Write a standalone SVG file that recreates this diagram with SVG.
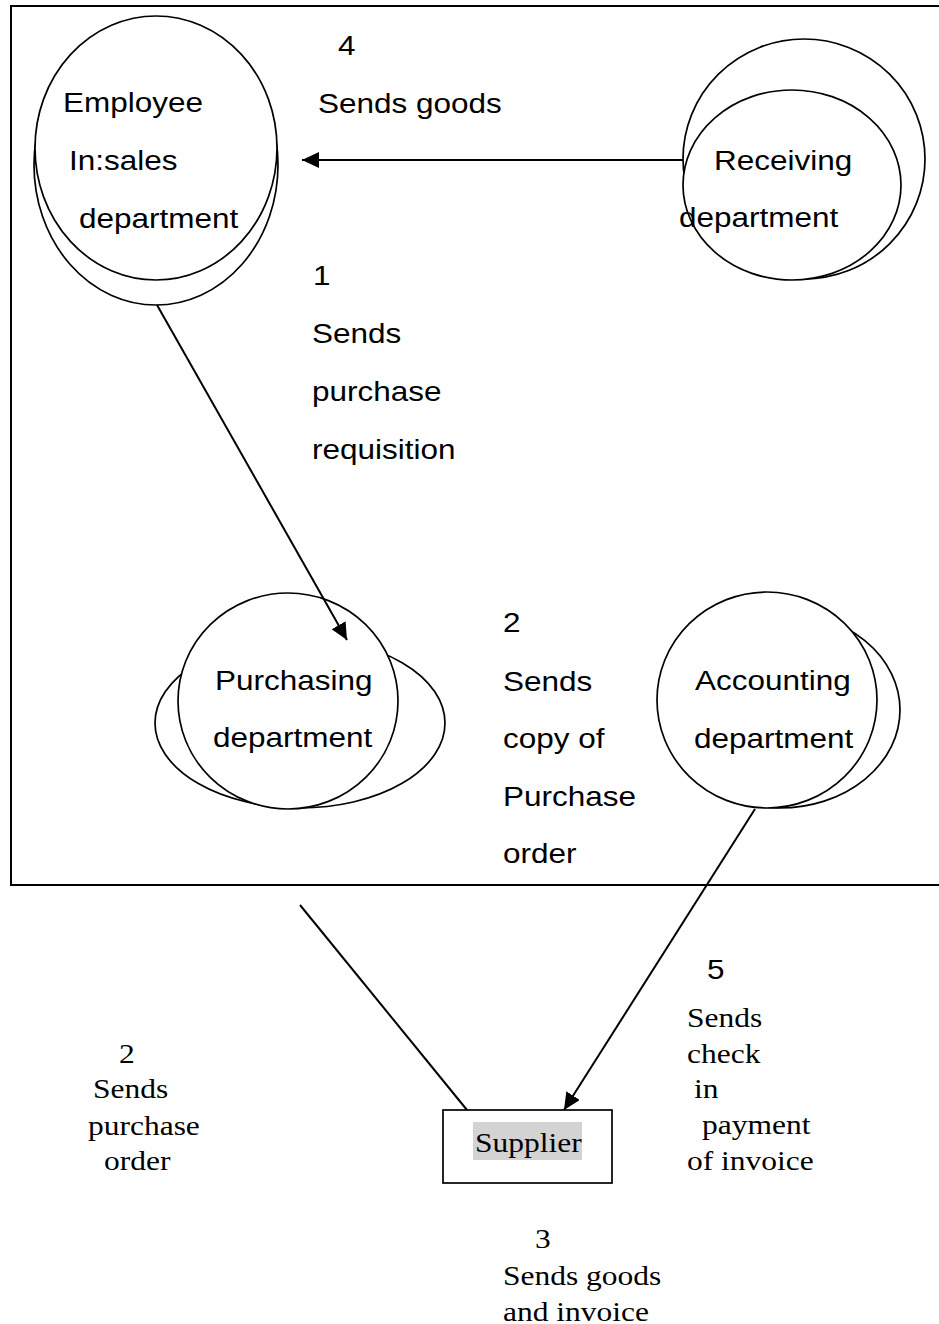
<svg xmlns="http://www.w3.org/2000/svg" width="939" height="1324" viewBox="0 0 939 1324">
  <style>
    .ln { fill: none; stroke: #000; stroke-width: 2; }
    .bub { fill: #fff; stroke: #000; stroke-width: 1.7; }
    .s { font-family: "Liberation Sans", Arial, sans-serif; font-size: 27.5px; fill: #000; }
    .t { font-family: "Liberation Serif", "Times New Roman", serif; font-size: 27.5px; fill: #000; }
  </style>
  <defs>
    <marker id="head" markerUnits="userSpaceOnUse" markerWidth="20" markerHeight="18" refX="17" refY="8" orient="auto">
      <path d="M0,0 L17,8 L0,16 z" fill="#000"/>
    </marker>
  </defs>
  <rect width="939" height="1324" fill="#fff"/>

  <!-- company boundary (runs off the right edge) -->
  <rect id="boundary" x="11" y="6" width="960" height="879" fill="none" stroke="#000" stroke-width="2"/>

  <!-- Employee in sales department -->
  <g id="employee">
    <ellipse class="bub" cx="156" cy="165" rx="122" ry="140"/>
    <ellipse class="bub" cx="156" cy="148" rx="121" ry="132"/>
    <text class="s" transform="translate(63 112) scale(1.145 1)">Employee</text>
    <text class="s" transform="translate(69 170) scale(1.145 1)">In:sales</text>
    <text class="s" transform="translate(79 228) scale(1.145 1)">department</text>
  </g>

  <!-- Receiving department -->
  <g id="receiving">
    <ellipse class="bub" cx="804" cy="159" rx="121" ry="120"/>
    <ellipse class="bub" cx="792" cy="185" rx="109" ry="95"/>
    <text class="s" transform="translate(714 170) scale(1.145 1)">Receiving</text>
    <text class="s" transform="translate(679 227) scale(1.145 1)">department</text>
  </g>

  <!-- Purchasing department -->
  <g id="purchasing">
    <ellipse class="bub" cx="300" cy="723" rx="145" ry="85"/>
    <ellipse class="bub" cx="288" cy="701" rx="110" ry="108"/>
    <text class="s" transform="translate(215 690) scale(1.145 1)">Purchasing</text>
    <text class="s" transform="translate(213 747) scale(1.145 1)">department</text>
  </g>

  <!-- Accounting department -->
  <g id="accounting">
    <ellipse class="bub" cx="780" cy="710" rx="120" ry="98"/>
    <ellipse class="bub" cx="767" cy="700" rx="110" ry="108"/>
    <text class="s" transform="translate(695 690) scale(1.145 1)">Accounting</text>
    <text class="s" transform="translate(694 748) scale(1.145 1)">department</text>
  </g>

  <!-- Supplier -->
  <g id="supplier">
    <rect x="443" y="1110" width="169" height="73" fill="#fff" stroke="#000" stroke-width="1.7"/>
    <rect x="473" y="1122" width="109" height="38" fill="#d3d3d3"/>
    <text class="t" transform="translate(475 1152) scale(1.145 1)">Supplier</text>
  </g>

  <!-- flows -->
  <g id="connectors">
    <line class="ln" x1="683" y1="160" x2="302" y2="160" marker-end="url(#head)"/>
    <line class="ln" x1="157" y1="305" x2="347" y2="640" marker-end="url(#head)"/>
    <line class="ln" x1="300" y1="905" x2="467" y2="1110"/>
    <line class="ln" x1="755" y1="809" x2="564" y2="1110" marker-end="url(#head)"/>
  </g>

  <!-- flow labels -->
  <g id="label-4">
    <text class="s" transform="translate(338 55) scale(1.145 1)">4</text>
    <text class="s" transform="translate(318 113) scale(1.145 1)">Sends goods</text>
  </g>
  <g id="label-1">
    <text class="s" transform="translate(313 285) scale(1.145 1)">1</text>
    <text class="s" transform="translate(312 343) scale(1.145 1)">Sends</text>
    <text class="s" transform="translate(312 401) scale(1.145 1)">purchase</text>
    <text class="s" transform="translate(312 459) scale(1.145 1)">requisition</text>
  </g>
  <g id="label-2-copy">
    <text class="s" transform="translate(503 632) scale(1.145 1)">2</text>
    <text class="s" transform="translate(503 691) scale(1.145 1)">Sends</text>
    <text class="s" transform="translate(503 748) scale(1.145 1)">copy of</text>
    <text class="s" transform="translate(503 806) scale(1.145 1)">Purchase</text>
    <text class="s" transform="translate(503 863) scale(1.145 1)">order</text>
  </g>
  <g id="label-5">
    <text class="s" transform="translate(707 979) scale(1.145 1)">5</text>
    <text class="t" transform="translate(687 1027) scale(1.145 1)">Sends</text>
    <text class="t" transform="translate(687 1063) scale(1.145 1)">check</text>
    <text class="t" transform="translate(694 1098) scale(1.145 1)">in</text>
    <text class="t" transform="translate(702 1134) scale(1.145 1)">payment</text>
    <text class="t" transform="translate(687 1170) scale(1.145 1)">of invoice</text>
  </g>
  <g id="label-2-order">
    <text class="t" transform="translate(119 1063) scale(1.145 1)">2</text>
    <text class="t" transform="translate(93 1098) scale(1.145 1)">Sends</text>
    <text class="t" transform="translate(88 1135) scale(1.145 1)">purchase</text>
    <text class="t" transform="translate(104 1170) scale(1.145 1)">order</text>
  </g>
  <g id="label-3">
    <text class="t" transform="translate(535 1248) scale(1.145 1)">3</text>
    <text class="t" transform="translate(503 1285) scale(1.145 1)">Sends goods</text>
    <text class="t" transform="translate(503 1321) scale(1.145 1)">and invoice</text>
  </g>
</svg>
